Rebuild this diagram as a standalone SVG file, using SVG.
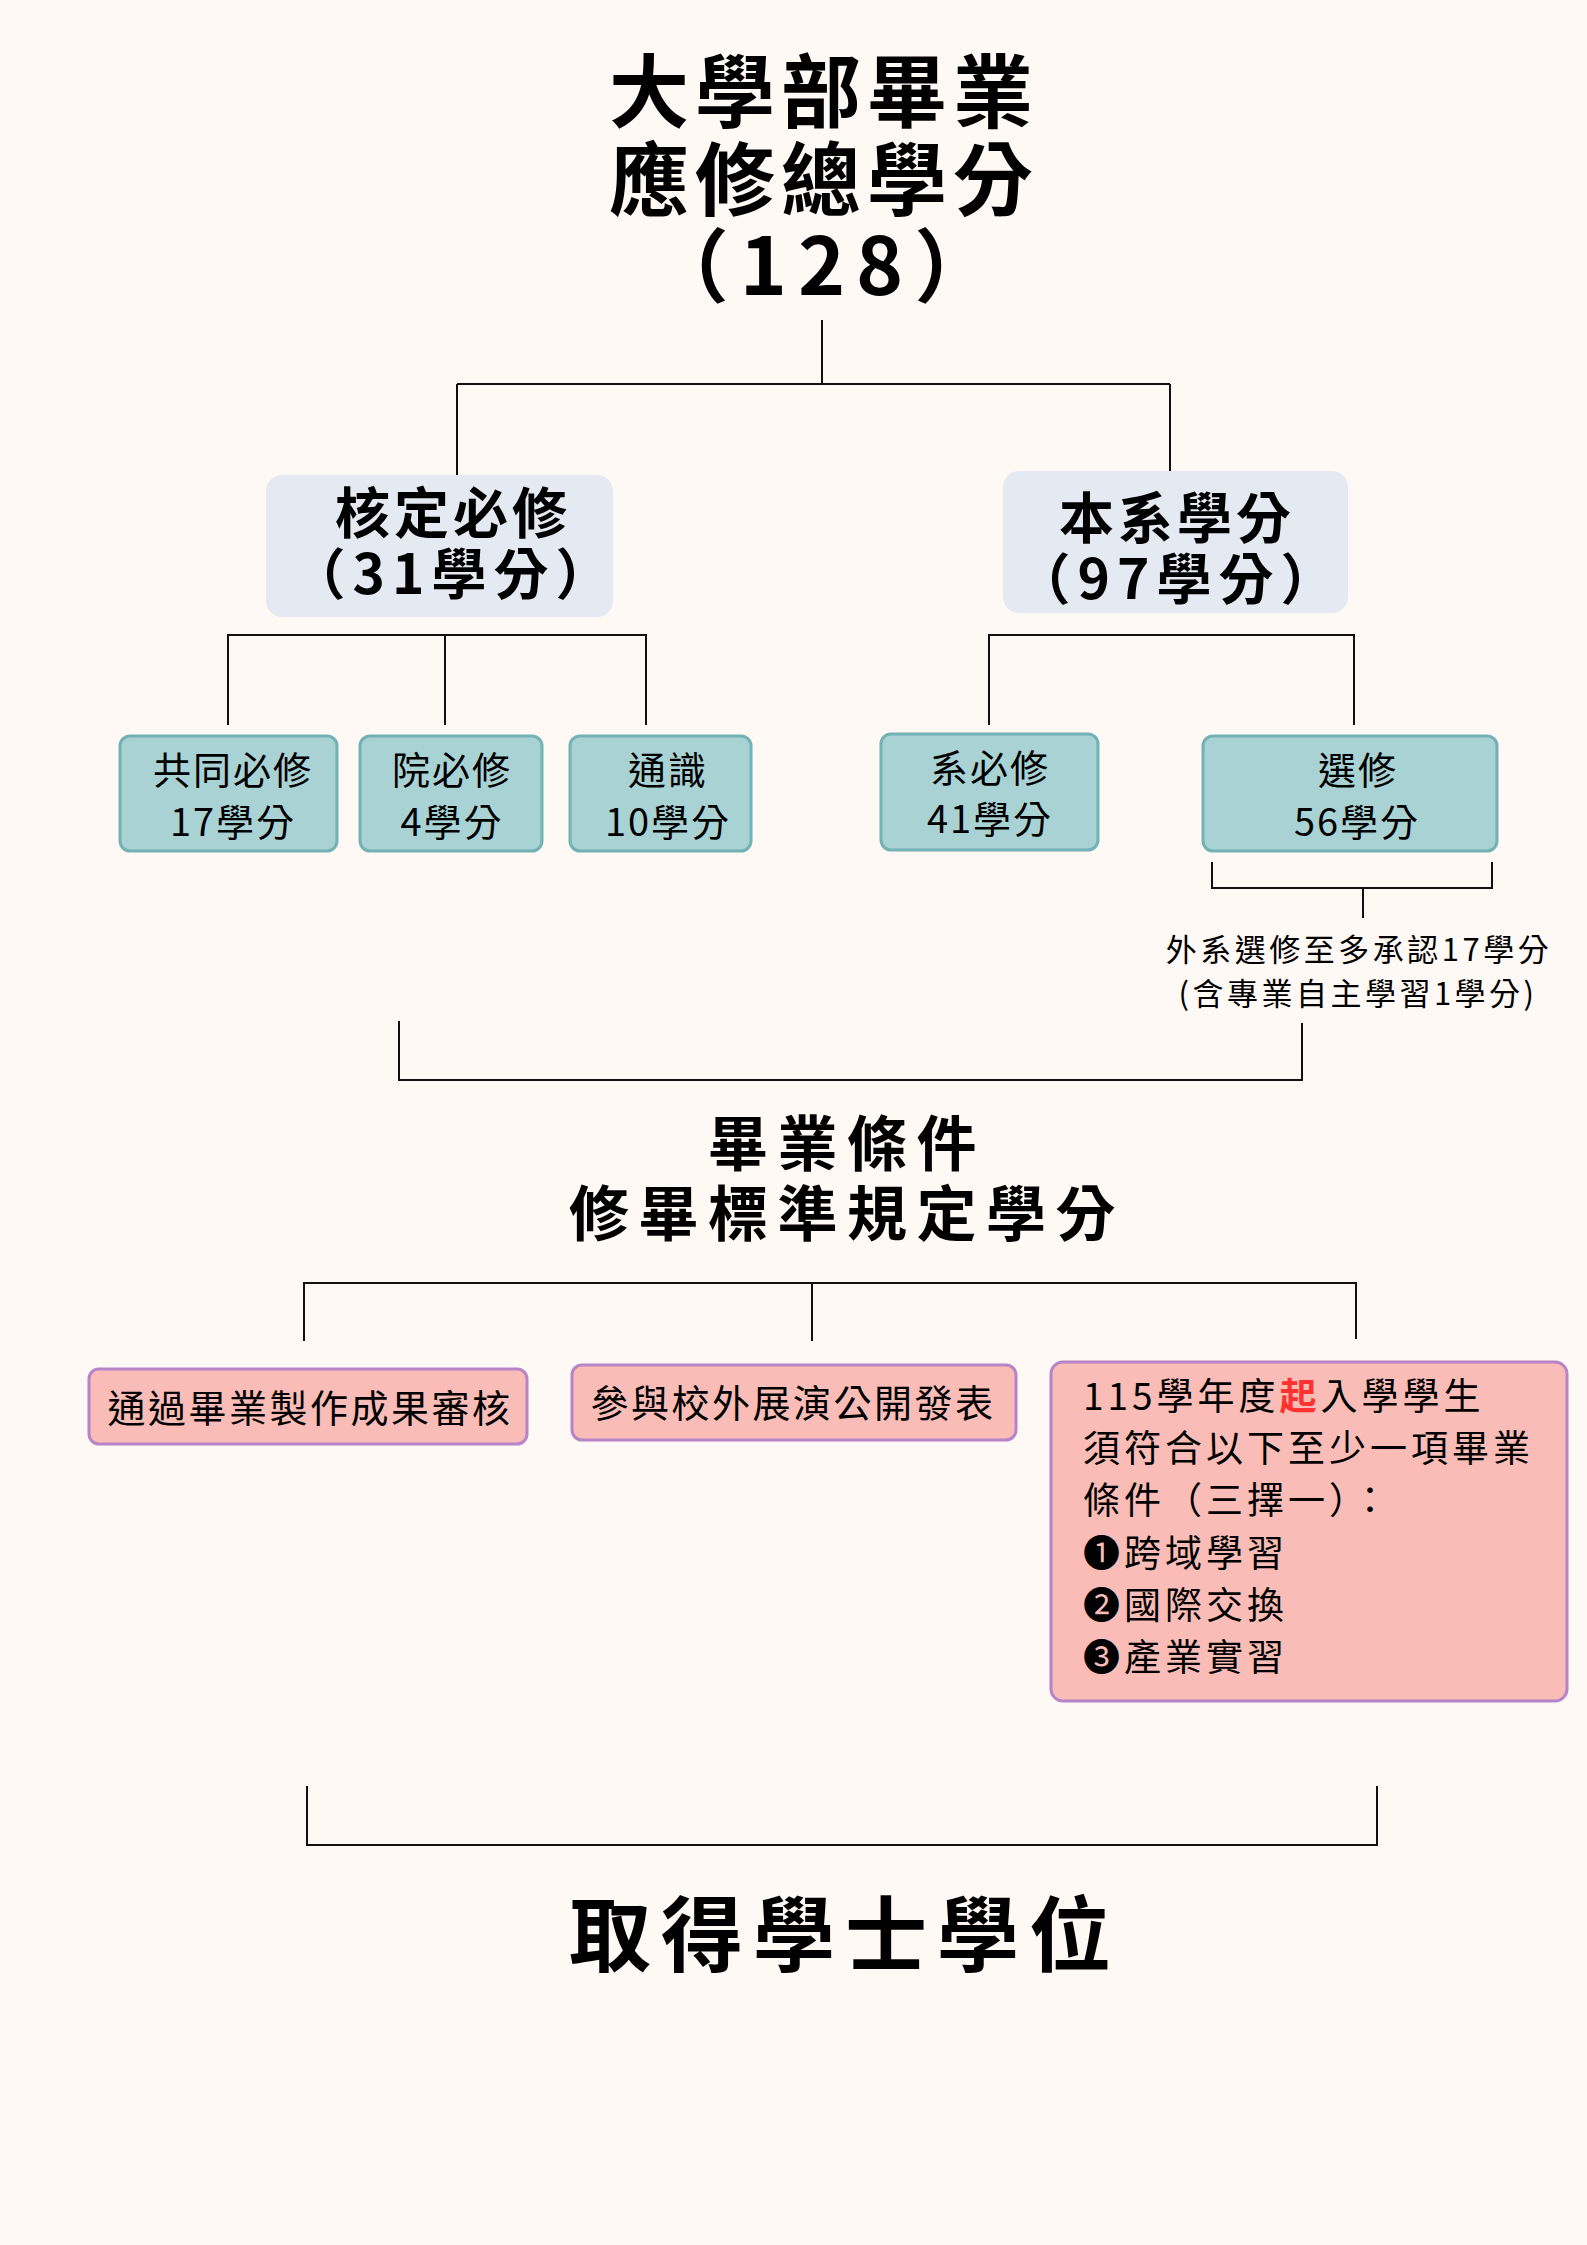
<svg xmlns="http://www.w3.org/2000/svg" width="1587" height="2245" viewBox="0 0 1587 2245">
<style>
text{font-family:"Noto Sans CJK TC","Noto Sans CJK SC",sans-serif;fill:#000}
.title{font-size:80px;font-weight:700;letter-spacing:6px}
.l2{font-size:55px;font-weight:700;letter-spacing:4px}
.l3{font-size:38px;font-weight:400;letter-spacing:2px}
.note{font-size:31px;font-weight:400;letter-spacing:3.5px}
.sub{font-size:60px;font-weight:700;letter-spacing:9.5px}
.l4{font-size:38px;font-weight:400;letter-spacing:2.5px}
.cond{font-size:37px;font-weight:400;letter-spacing:4px}
.final{font-size:82px;font-weight:700;letter-spacing:10px}
.b2{fill:#e5eaf2}
.b3{fill:#a8d2d4;stroke:#72b2b5;stroke-width:3}
.b4{fill:#f9bcb6;stroke:#b884c8;stroke-width:3}
.ln{fill:none;stroke:#111;stroke-width:2}
</style>
<rect width="1587" height="2245" fill="#fef9f5"/>
<g id="connectors">
<path class="ln" d="M822 320V384M457 384H1170M457 384V475M1170 384V471"/>
<path class="ln" d="M228 725V635H646V725M445 635V725"/>
<path class="ln" d="M989 725V635H1354V725"/>
<path class="ln" d="M1212 862V888H1492V862M1363 888V918"/>
<path class="ln" d="M399 1021V1080H1302V1023"/>
<path class="ln" d="M304 1341V1283H1356V1339M812 1283V1341"/>
<path class="ln" d="M307 1786V1845H1377V1786"/>
</g>
<g id="title">
<text class="title" text-anchor="middle"><tspan x="824" y="121">大學部畢業</tspan><tspan x="824" y="209">應修總學分</tspan><tspan x="827" y="295" style="letter-spacing:11px">（128）</tspan></text>
</g>
<g id="node-core">
<rect class="b2" x="266" y="475" width="347" height="142" rx="16"/>
<text class="l2" text-anchor="middle"><tspan x="453" y="533">核定必修</tspan><tspan x="454" y="594" style="letter-spacing:7px">（31學分）</tspan></text>
</g>
<g id="node-dept">
<rect class="b2" x="1003" y="471" width="345" height="142" rx="16"/>
<text class="l2" text-anchor="middle"><tspan x="1177" y="538">本系學分</tspan><tspan x="1179" y="599" style="letter-spacing:7px">（97學分）</tspan></text>
</g>
<g id="node-common">
<rect class="b3" x="120" y="736" width="217" height="115" rx="10"/>
<text class="l3" text-anchor="middle"><tspan x="233" y="784">共同必修</tspan><tspan x="233" y="836">17學分</tspan></text>
</g>
<g id="node-college">
<rect class="b3" x="360" y="736" width="182" height="115" rx="10"/>
<text class="l3" text-anchor="middle"><tspan x="452" y="784">院必修</tspan><tspan x="452" y="836">4學分</tspan></text>
</g>
<g id="node-general">
<rect class="b3" x="570" y="736" width="181" height="115" rx="10"/>
<text class="l3" text-anchor="middle"><tspan x="668" y="784">通識</tspan><tspan x="668" y="836">10學分</tspan></text>
</g>
<g id="node-deptreq">
<rect class="b3" x="881" y="734" width="217" height="116" rx="10"/>
<text class="l3" text-anchor="middle"><tspan x="990" y="782">系必修</tspan><tspan x="990" y="833">41學分</tspan></text>
</g>
<g id="node-elective">
<rect class="b3" x="1203" y="736" width="294" height="115" rx="10"/>
<text class="l3" text-anchor="middle"><tspan x="1358" y="784">選修</tspan><tspan x="1357" y="836">56學分</tspan></text>
</g>
<g id="note-elective">
<text class="note" text-anchor="middle"><tspan x="1359" y="961">外系選修至多承認17學分</tspan><tspan x="1358" y="1005">(含專業自主學習1學分)</tspan></text>
</g>
<g id="node-conditions">
<text class="sub" text-anchor="middle"><tspan x="847" y="1166">畢業條件</tspan><tspan x="847" y="1236">修畢標準規定學分</tspan></text>
</g>
<g id="node-project">
<rect class="b4" x="89" y="1369" width="438" height="75" rx="10"/>
<text class="l4" x="310" y="1422" text-anchor="middle">通過畢業製作成果審核</text>
</g>
<g id="node-exhibit">
<rect class="b4" x="572" y="1365" width="444" height="75" rx="10"/>
<text class="l4" x="793" y="1417" text-anchor="middle">參與校外展演公開發表</text>
</g>
<g id="node-115">
<rect class="b4" x="1051" y="1362" width="516" height="339" rx="12"/>
<text class="cond"><tspan x="1083" y="1410">115學年度</tspan><tspan style="fill:#ff3131;font-weight:700">起</tspan><tspan>入學學生</tspan><tspan x="1083" y="1462">須符合以下至少一項畢業</tspan><tspan x="1083" y="1514">條件（三擇一）：</tspan><tspan x="1083" y="1567">❶跨域學習</tspan><tspan x="1083" y="1619">❷國際交換</tspan><tspan x="1083" y="1671">❸產業實習</tspan></text>
</g>
<g id="node-degree">
<text class="final" x="845" y="1965" text-anchor="middle">取得學士學位</text>
</g>
</svg>
